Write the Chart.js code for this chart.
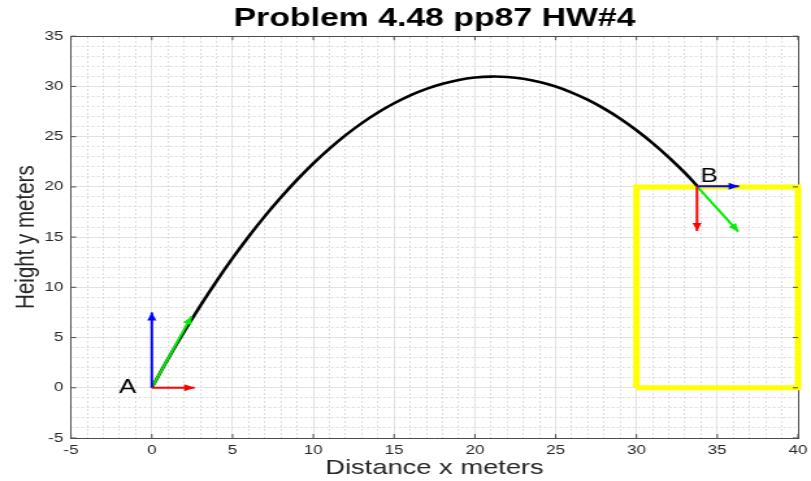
<!DOCTYPE html>
<html><head><meta charset="utf-8">
<script src="https://cdn.jsdelivr.net/npm/chart.js@4.4.1/dist/chart.umd.min.js"></script>
<style>
html,body{margin:0;padding:0;background:#fff;overflow:hidden;}
#wrap{width:624px;height:481px;transform:scaleX(1.29968);transform-origin:0 0;}
canvas{display:block;}
</style></head><body>
<div id="wrap"><canvas id="c" width="624" height="481"></canvas></div>
<script>
// ---- data ----
const titleText = 'Problem 4.48 pp87 HW#4';
const xTitle = 'Distance x meters';
const yTitle = 'Height y meters';
const xRange = [-5, 40];
const yRange = [-5, 35];
const majorStep = 5;
const minorStep = 1;

const trajX = [0, 1, 2, 3, 4, 5, 6, 7, 8, 9, 10, 11, 12, 13, 14, 15, 16, 17, 18, 19, 20, 21, 22, 23, 24, 25, 26, 27, 28, 29, 30, 31, 32, 33, 33.75];
const trajY = [0, 2.87, 5.58, 8.16, 10.60, 12.90, 15.06, 17.09, 18.97, 20.72, 22.34, 23.81, 25.15, 26.35, 27.41, 28.33, 29.12, 29.76, 30.27, 30.65, 30.88, 30.98, 30.94, 30.76, 30.44, 29.99, 29.39, 28.66, 27.79, 26.79, 25.64, 24.36, 22.94, 21.39, 20.1];

const boxX = [30, 30, 40, 40, 30];
const boxY = [0, 20, 20, 0, 0];

const arrowNames = ['A vx', 'A vy', 'A v', 'B vx', 'B vy', 'B v'];
const arrowX0 = [0, 0, 0, 33.75, 33.75, 33.75];
const arrowY0 = [0, 0, 0, 20.05, 20.05, 20.05];
const arrowX1 = [2.65, 0, 2.45, 36.35, 33.75, 36.3];
const arrowY1 = [0, 7.5, 7.1, 20.05, 15.6, 15.55];

const labelText = ['A', 'B'];
const labelX = [-1.5, 34.5];
const labelY = [0, 21];

// ---- styles ----
const arrowColors = ['#ff0000', '#0000ff', '#00ee00', '#0000ff', '#ff0000', '#00ee00'];
const FONT = "'Liberation Sans', Arial, Helvetica, sans-serif";
Chart.defaults.font.family = FONT;

const datasets = [];
datasets.push({
  label: 'trajectory',
  data: trajX.map((x, i) => ({x, y: trajY[i]})),
  showLine: true, borderColor: '#000', borderWidth: 2.6, pointRadius: 0,
  tension: 0.4, order: 4, clip: false
});
datasets.push({
  label: 'box',
  data: boxX.map((x, i) => ({x, y: boxY[i]})),
  showLine: true, borderColor: '#ffff00', borderWidth: 5, pointRadius: 0,
  tension: 0, order: 5, clip: false, borderJoinStyle: 'miter'
});
arrowNames.forEach((n, i) => {
  datasets.push({
    label: n, isArrow: true,
    data: [{x: arrowX0[i], y: arrowY0[i]}, {x: arrowX1[i], y: arrowY1[i]}],
    showLine: true, borderColor: arrowColors[i], backgroundColor: arrowColors[i],
    borderWidth: 2, pointRadius: 0, order: 1, clip: false
  });
});

const arrowHeads = {
  id: 'arrowHeads',
  afterDatasetsDraw(chart) {
    const ctx = chart.ctx;
    chart.data.datasets.forEach((ds, i) => {
      if (!ds.isArrow) return;
      const pts = chart.getDatasetMeta(i).data;
      const p0 = pts[0], p1 = pts[1];
      const ang = Math.atan2(p1.y - p0.y, p1.x - p0.x);
      const L = 8, W = 3.5;
      ctx.save();
      ctx.fillStyle = ds.borderColor;
      ctx.beginPath();
      ctx.moveTo(p1.x, p1.y);
      ctx.lineTo(p1.x - L * Math.cos(ang) + W * Math.sin(ang), p1.y - L * Math.sin(ang) - W * Math.cos(ang));
      ctx.lineTo(p1.x - L * Math.cos(ang) - W * Math.sin(ang), p1.y - L * Math.sin(ang) + W * Math.cos(ang));
      ctx.closePath();
      ctx.fill();
      ctx.restore();
    });
  }
};

const pointLabels = {
  id: 'pointLabels',
  afterDatasetsDraw(chart) {
    const ctx = chart.ctx, xs = chart.scales.x, ys = chart.scales.y;
    ctx.save();
    ctx.fillStyle = '#000';
    ctx.font = '20px ' + FONT;
    ctx.textAlign = 'center';
    ctx.textBaseline = 'middle';
    labelText.forEach((t, i) => {
      ctx.fillText(t, xs.getPixelForValue(labelX[i]), ys.getPixelForValue(labelY[i]));
    });
    ctx.restore();
  }
};

const innerTicks = {
  id: 'innerTicks',
  afterDraw(chart) {
    const ctx = chart.ctx, xs = chart.scales.x, ys = chart.scales.y, a = chart.chartArea;
    ctx.save();
    ctx.strokeStyle = '#4d4d4d';
    ctx.lineWidth = 1;
    ctx.beginPath();
    xs.ticks.forEach(t => {
      const px = xs.getPixelForValue(t.value);
      ctx.moveTo(px, a.bottom); ctx.lineTo(px, a.bottom - 4);
      ctx.moveTo(px, a.top); ctx.lineTo(px, a.top + 4);
    });
    ys.ticks.forEach(t => {
      const py = ys.getPixelForValue(t.value);
      ctx.moveTo(a.left, py); ctx.lineTo(a.left + 4, py);
      ctx.moveTo(a.right, py); ctx.lineTo(a.right - 4, py);
    });
    ctx.stroke();
    ctx.restore();
  }
};

const minorColor = (c) => (c.tick && Math.abs(c.tick.value % majorStep) < 1e-9) ? 'rgba(0,0,0,0)' : '#dcdcdc';

new Chart(document.getElementById('c'), {
  type: 'scatter',
  data: { datasets },
  plugins: [arrowHeads, pointLabels, innerTicks],
  options: {
    responsive: false, animation: false, devicePixelRatio: 1,
    layout: { padding: { left: 0, right: 10, top: 0, bottom: 0 } },
    plugins: {
      legend: { display: false }, tooltip: { enabled: false },
      title: { display: true, text: titleText, fullSize: false, color: '#000',
        font: { size: 26, weight: 'bold', family: FONT }, padding: { top: 3, bottom: 2 } }
    },
    scales: {
      x: {
        type: 'linear', position: 'bottom', min: xRange[0], max: xRange[1],
        ticks: { stepSize: majorStep, color: '#262626', font: { size: 13 }, padding: 5, maxRotation: 0, autoSkip: false },
        grid: { color: '#e2e2e2', lineWidth: 1, drawTicks: false },
        border: { display: true, color: '#4d4d4d' },
        title: { display: true, text: xTitle, color: '#262626', font: { size: 21 }, padding: { top: 0, bottom: 0 } },
        afterFit(s) { s.height = 43; s.paddingLeft = 0; s.paddingRight = 0; }
      },
      y: {
        type: 'linear', position: 'left', min: yRange[0], max: yRange[1],
        ticks: { stepSize: majorStep, color: '#262626', font: { size: 13 }, padding: 6, autoSkip: false },
        grid: { color: '#e2e2e2', lineWidth: 1, drawTicks: false },
        border: { display: true, color: '#4d4d4d' },
        title: { display: true, text: yTitle, color: '#262626', font: { size: 20.5 }, padding: { top: 8, bottom: 0 } },
        afterFit(s) { s.width = 54.63; s.paddingTop = 0; s.paddingBottom = 0; }
      },
      x2: {
        type: 'linear', position: 'top', min: xRange[0], max: xRange[1],
        ticks: { display: false, stepSize: minorStep, maxTicksLimit: 200, autoSkip: false },
        grid: { color: minorColor, lineWidth: 1, drawTicks: false },
        border: { display: true, color: '#4d4d4d', dash: [2, 2] },
        afterFit(s) { s.height = 0; s.paddingLeft = 0; s.paddingRight = 0; }
      },
      y2: {
        type: 'linear', position: 'right', min: yRange[0], max: yRange[1],
        ticks: { display: false, stepSize: minorStep, maxTicksLimit: 200, autoSkip: false },
        grid: { color: minorColor, lineWidth: 1, drawTicks: false },
        border: { display: true, color: '#4d4d4d', dash: [2, 2] },
        afterFit(s) { s.width = 0; s.paddingTop = 0; s.paddingBottom = 0; }
      }
    }
  }
});
</script>
</body></html>
